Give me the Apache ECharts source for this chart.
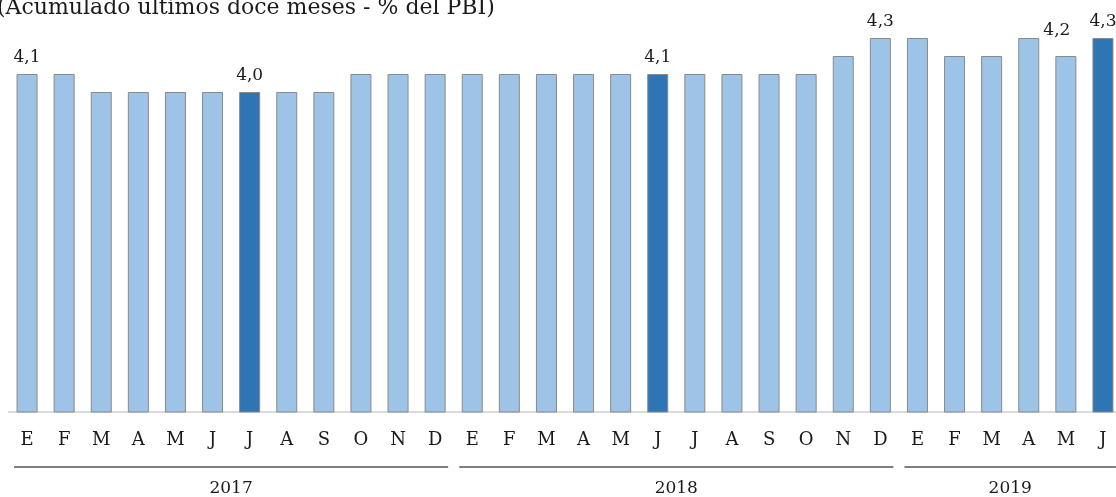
<!DOCTYPE html>
<html><head><meta charset="utf-8">
<script src="https://cdn.jsdelivr.net/npm/echarts@6/dist/echarts.min.js"></script>
<style>html,body{margin:0;padding:0;background:#fff}#c{width:1116px;height:497px}</style>
</head><body><div id="c"></div>
<script>
const title = '(Acumulado últimos doce meses - % del PBI)';
const months = ['E','F','M','A','M','J','J','A','S','O','N','D','E','F','M','A','M','J','J','A','S','O','N','D','E','F','M','A','M','J'];
const values = [4.1,4.1,4.0,4.0,4.0,4.0,4.0,4.0,4.0,4.1,4.1,4.1,4.1,4.1,4.1,4.1,4.1,4.1,4.1,4.1,4.1,4.1,4.2,4.3,4.3,4.2,4.2,4.3,4.2,4.3];
const highlighted = [6,17,29];
const labelled = [0,6,17,23,28,29];
const years = ['2017','2018','2019'];
const yearStart = [0,12,24];
const yearEnd = [11,23,29];

const FONT = 'DejaVu Serif';
const chart = echarts.init(document.getElementById('c'), null, {renderer:'canvas'});
const data = values.map((v,i)=>{
  const d = {value:v, itemStyle:{color: highlighted.includes(i)?'#2e75b6':'#9dc3e6'}};
  if (labelled.includes(i)) {
    d.label = {show:true};
    if (i===28) d.label.offset = [-9,-9];
  }
  return d;
});
const titleG = {type:'text', left:-3, top:-3, style:{text:title, fontFamily:FONT, fontSize:22, fill:'#1a1a1a'}};
chart.setOption({
  animation:false,
  grid:{left:8.5, top:2, width:1113, bottom:85, containLabel:false, outerBoundsMode:'none'},
  xAxis:{type:'category', data:months, boundaryGap:true,
    axisLine:{lineStyle:{color:'#d0d0d0', width:1.5}}, axisTick:{show:false},
    axisLabel:{fontFamily:FONT, fontSize:18, color:'#1a1a1a', margin:19, interval:0}},
  yAxis:{type:'value', min:2.222, max:4.5, show:false, splitLine:{show:false}},
  series:[{type:'bar', data:data, barWidth:21,
    itemStyle:{borderColor:'#8a8a8a', borderWidth:1},
    label:{show:false, position:'top', distance:8, fontFamily:FONT, fontSize:17, color:'#1a1a1a',
      formatter:p=>p.value.toFixed(1).replace('.',',')}}],
  graphic:[titleG]
});
// year group lines and labels placed through the axis scale
const g = [];
years.forEach((y,k)=>{
  const x0 = chart.convertToPixel({xAxisIndex:0}, yearStart[k]);
  const x1 = chart.convertToPixel({xAxisIndex:0}, yearEnd[k]);
  g.push({type:'line', shape:{x1:x0-13, y1:467, x2:x1+13, y2:467}, style:{stroke:'#555', lineWidth:1.3}});
  g.push({type:'text', x:(x0+x1)/2, y:489, style:{text:y, fontFamily:FONT, fontSize:17, fill:'#1a1a1a', align:'center', verticalAlign:'middle'}});
});
chart.setOption({graphic: g.concat([titleG])}, {replaceMerge:['graphic']});
</script></body></html>
